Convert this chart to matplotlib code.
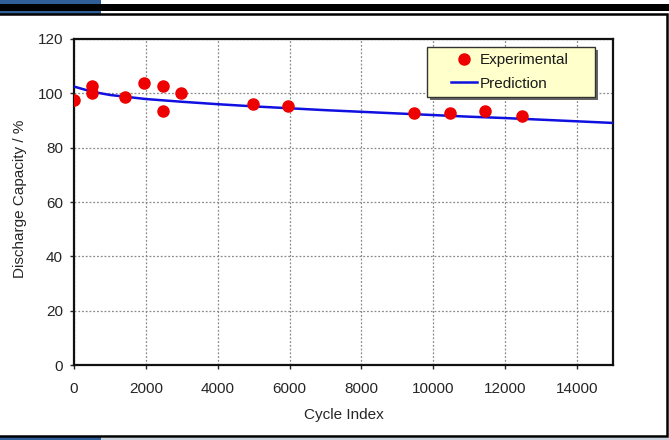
import matplotlib
matplotlib.use("Agg")
import matplotlib.pyplot as plt
from matplotlib.patches import Rectangle
from matplotlib.lines import Line2D

plt.rcParams['font.family'] = ['Liberation Sans', 'DejaVu Sans']

exp_cycles = [0, 490, 490, 1420, 1950, 2480, 2480, 2970, 4970, 5960, 9470, 10460, 11450, 12470]
exp_capacity = [97.5, 102.8, 100.0, 98.8, 103.9, 102.7, 93.6, 100.2, 96.1, 95.3, 92.6, 92.6, 93.6, 91.8]

pred_cycles = [0, 500, 1000, 2000, 3000, 4000, 5000, 6000, 7000, 8000, 9000, 10000, 11000, 12000, 13000, 14000, 15000]
pred_capacity = [102.5, 100.6, 99.4, 97.9, 96.9, 96.0, 95.2, 94.5, 93.8, 93.2, 92.6, 92.0, 91.4, 90.9, 90.3, 89.7, 89.1]

x_ticks = [0, 2000, 4000, 6000, 8000, 10000, 12000, 14000]
y_ticks = [0, 20, 40, 60, 80, 100, 120]

W, H = 669, 440
fig = plt.figure(figsize=(W / 100, H / 100), dpi=100)

def px_rect(x0, y0, x1, y1, **kw):
    r = Rectangle((x0 / W, 1 - y1 / H), (x1 - x0) / W, (y1 - y0) / H,
                  transform=fig.transFigure, **kw)
    fig.patches.append(r)

# decorations
px_rect(0, 0, 101, 14, facecolor='#2f5f96', edgecolor='none')
px_rect(0, 4, W, 11, facecolor='black', edgecolor='none')
px_rect(0, 436.5, 101, 440, facecolor='#2f5f96', edgecolor='none')
px_rect(101, 437.5, W, 440, facecolor='#c9d2df', edgecolor='none')
px_rect(-2, 14, 666.5, 435.5, facecolor='none', edgecolor='black', linewidth=1.8)

AX0, AX1, AY0, AY1 = 74, 613, 39, 365
ax = fig.add_axes([AX0 / W, 1 - AY1 / H, (AX1 - AX0) / W, (AY1 - AY0) / H])
ax.set_xlim(0, 15000)
ax.set_ylim(0, 120)
ax.set_xticks(x_ticks)
ax.set_yticks(y_ticks)
ax.grid(True, linestyle=(0, (1.5, 1.5)), color='#8a8a8a', linewidth=0.9)
ax.set_axisbelow(True)
for s in ax.spines.values():
    s.set_linewidth(1.6)
    s.set_color('#111111')
ax.tick_params(direction='out', length=3, width=1, labelsize=11, colors='#262626')
ax.tick_params(axis='x', pad=9)
ax.tick_params(axis='y', pad=5)

ax.plot(pred_cycles, pred_capacity, color='#1010e0', linewidth=1.8, zorder=3)
ax.plot(exp_cycles, exp_capacity, linestyle='none', marker='o', markersize=8,
        color='#ee0000', markeredgecolor='#ee0000', zorder=4)

ax.set_xlabel('Cycle Index', fontsize=11, color='#262626', labelpad=9)
ax.set_ylabel('Discharge Capacity / %', fontsize=11, color='#262626')
ax.yaxis.set_label_coords(-0.088, 0.51)

def ax_px(x, y):
    return ((x - AX0) / (AX1 - AX0), (AY1 - y) / (AY1 - AY0))

# legend frame with shadow
bx0, by0, bx1, by1 = 427, 47, 595, 97
sx, sy = ax_px(bx0 + 3, by1 + 3)
ex, ey = ax_px(bx1 + 3, by0 + 3)
ax.add_patch(Rectangle((sx, sy), ex - sx, ey - sy, transform=ax.transAxes,
                       facecolor='#666666', edgecolor='none', zorder=5, clip_on=False))
lx, ly = ax_px(bx0, by1)
rx, ry = ax_px(bx1, by0)
ax.add_patch(Rectangle((lx, ly), rx - lx, ry - ly, transform=ax.transAxes,
                       facecolor='#ffffcc', edgecolor='#333333', linewidth=1.0, zorder=5.5, clip_on=False))

handles = [Line2D([], [], linestyle='none', marker='o', markersize=8, color='#ee0000'),
           Line2D([], [], color='#1010e0', linewidth=1.8)]
leg = ax.legend(handles, ['Experimental', 'Prediction'], loc='center',
                bbox_to_anchor=ax_px((bx0 + bx1) / 2 - 1, (by0 + by1) / 2),
                fontsize=11, frameon=False,
                handlelength=1.65, handletextpad=0.2, borderpad=0, labelspacing=0.6,
                borderaxespad=0)
for t in leg.get_texts():
    t.set_color('#1a1a1a')
leg.set_zorder(6)

fig.savefig('out.png', dpi=100)
